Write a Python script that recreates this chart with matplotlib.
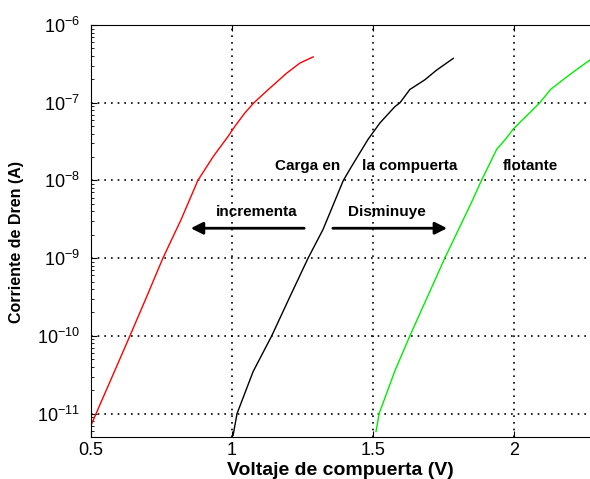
import matplotlib
matplotlib.use('Agg')
import matplotlib.pyplot as plt

plt.rcParams['font.family'] = ['Liberation Sans', 'DejaVu Sans']
plt.rcParams['mathtext.fontset'] = 'custom'
plt.rcParams['mathtext.rm'] = 'Liberation Sans'
plt.rcParams['mathtext.it'] = 'Liberation Sans'

# curvas (voltaje de compuerta V, corriente A)
v_red = [0.50, 0.518, 0.578, 0.638, 0.697, 0.755, 0.82, 0.879, 0.934, 0.987, 1.011, 1.046, 1.078, 1.129, 1.194, 1.241, 1.288]
i_red = [7.08e-12, 1e-11, 3.16e-11, 1e-10, 3.16e-10, 1e-9, 3.16e-9, 1e-8, 2.04e-8, 3.72e-8,
         5.01e-8, 7.41e-8, 1e-7, 1.48e-7, 2.40e-7, 3.24e-7, 3.89e-7]

v_black = [1.004, 1.018, 1.075, 1.141, 1.205, 1.27, 1.323, 1.395, 1.424, 1.483, 1.525, 1.578, 1.596, 1.631, 1.684, 1.726, 1.785]
i_black = [5.25e-12, 1e-11, 3.47e-11, 1e-10, 3.16e-10, 1e-9, 2.34e-9, 1e-8, 1.51e-8, 3.39e-8,
           5.50e-8, 8.91e-8, 1e-7, 1.48e-7, 1.97e-7, 2.63e-7, 3.72e-7]

v_green = [1.511, 1.522, 1.578, 1.631, 1.693, 1.755, 1.85, 1.885, 1.939, 1.97, 2.00, 2.092, 2.13, 2.174, 2.22, 2.27, 2.30]
i_green = [5.89e-12, 1e-11, 3.55e-11, 1e-10, 3.16e-10, 1e-9, 5.25e-9, 1e-8, 2.51e-8, 3.39e-8,
           4.68e-8, 1e-7, 1.48e-7, 1.97e-7, 2.63e-7, 3.55e-7, 4.17e-7]

x_ticks = [0.5, 1, 1.5, 2]
x_tick_labels = ['0.5', '1', '1.5', '2']

fig = plt.figure(figsize=(5.9, 4.79), dpi=100)
ax = fig.add_axes([91/590, 1 - 437/479, 1 - 91/590, 412/479])

ax.plot(v_red, i_red, color='#ff0000', lw=1)
ax.plot(v_black, i_black, color='black', lw=1)
ax.plot(v_green, i_green, color='#00ee00', lw=1)

ax.set_yscale('log')
ax.set_xlim(0.5, 2.27)
ax.set_ylim(5e-12, 1e-6)
ax.set_xticks(x_ticks)
ax.set_xticklabels(x_tick_labels)
ax.set_yticks([1e-11, 1e-10, 1e-9, 1e-8, 1e-7, 1e-6])

ax.grid(True, which='major', color='black', linestyle=(0, (1, 3)), lw=1.2)
ax.tick_params(which='both', direction='in', top=True, right=False, labelsize=13)
ax.tick_params(axis='y', which='major', pad=8)
ax.tick_params(which='major', length=4)
ax.tick_params(which='minor', length=2.5)
ax.spines['right'].set_visible(False)

ax.set_xlabel('Voltaje de compuerta (V)', fontsize=14, fontweight='bold', labelpad=2)
ax.set_ylabel('Corriente de Dren (A)', fontsize=11.5, fontweight='bold')
ax.yaxis.set_label_coords(-0.135, 0.473)

tfont = dict(fontsize=11, fontweight='bold', ha='center', va='center')
ax.text(1.27, 10**-7.81, 'Carga en', **tfont)
ax.text(1.631, 10**-7.81, 'la compuerta', **tfont)
ax.text(2.057, 10**-7.81, 'flotante', **tfont)
ax.text(1.089, 10**-8.40, 'incrementa', **tfont)
ax.text(1.55, 10**-8.40, 'Disminuye', **tfont)

arr = dict(arrowstyle='-|>', color='black', lw=2, mutation_scale=18)
ax.annotate('', xy=(0.844, 10**-8.615), xytext=(1.266, 10**-8.615), arrowprops=arr)
ax.annotate('', xy=(1.773, 10**-8.615), xytext=(1.348, 10**-8.615), arrowprops=arr)

plt.savefig('out.png', dpi=100)
